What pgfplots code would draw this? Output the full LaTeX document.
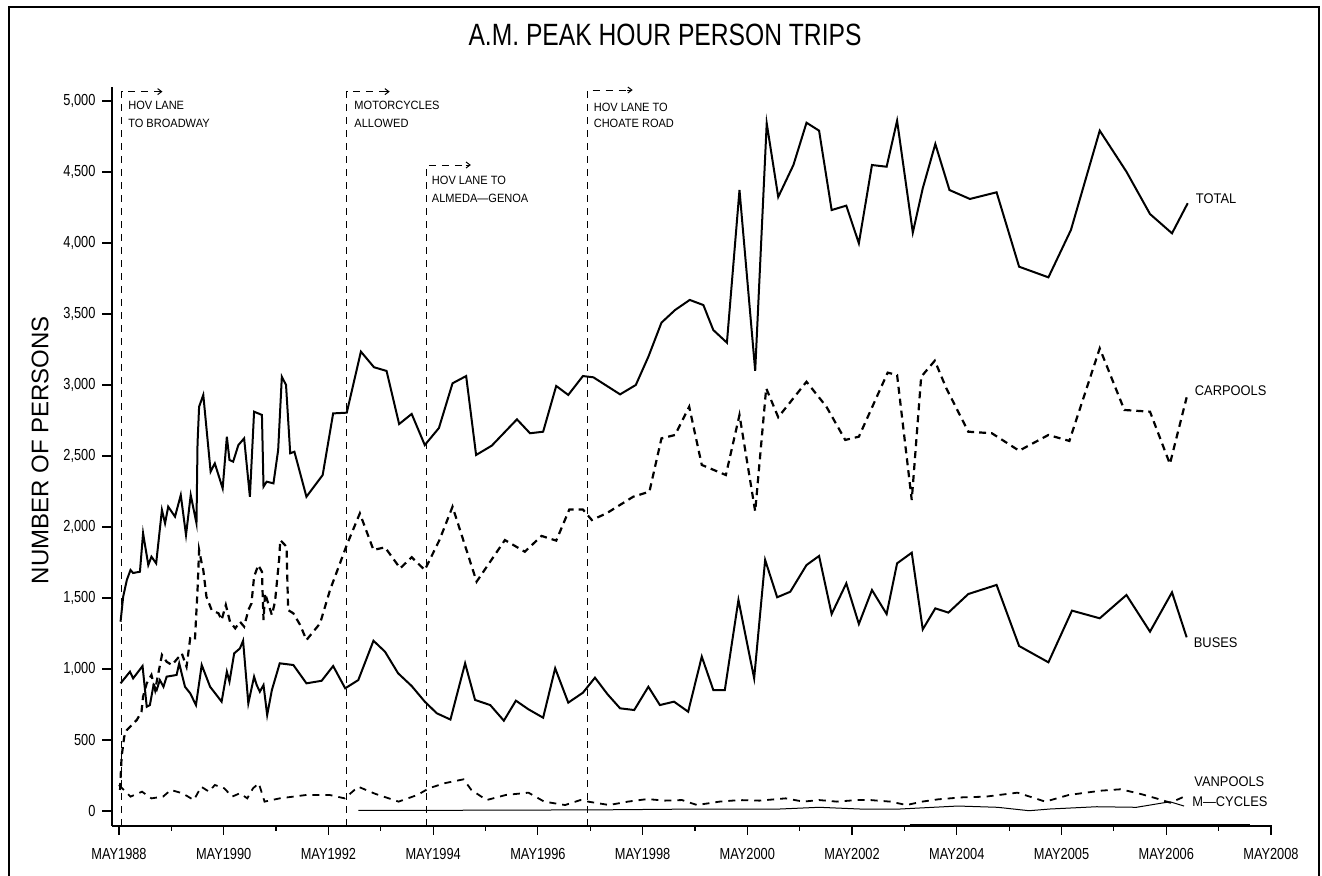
\documentclass[border=0pt]{standalone}
\usepackage{pgfplots}
\pgfplotsset{compat=1.18}
\usepackage{fontspec}
\usetikzlibrary{arrows.meta}
\setmainfont{Liberation Sans}
\newfontfamily\narrow{Liberation Sans}[FakeStretch=0.8]
\newfontfamily\semi{Liberation Sans}[FakeStretch=0.92]
\begin{document}
\begin{tikzpicture}
\path[use as bounding box] (0,0) rectangle (661pt,438pt);
\draw[line width=0.7pt] (4.5pt,0pt) -- (4.5pt,434.5pt) -- (659.5pt,434.5pt) -- (659.5pt,0pt);
\node[font=\narrow\fontsize{15.4}{18}\selectfont] at (332.5pt,420.5pt) {A.M. PEAK HOUR PERSON TRIPS};
\node[rotate=90, font=\fontsize{12}{14}\selectfont] at (20pt,213pt) {NUMBER OF PERSONS};
\begin{axis}[
  at={(55.75pt,25pt)}, anchor=south west,
  scale only axis, width=580.25pt, height=369.5pt,
  xmin=-0.143, xmax=22.02, ymin=-105.6, ymax=5098.6,
  axis x line*=bottom, axis y line*=left,
  axis line style={line width=1pt,-},
  xtick={0,2,...,22}, minor xtick={1,3,...,21},
  xticklabels={MAY1988,MAY1990,MAY1992,MAY1994,MAY1996,MAY1998,MAY2000,MAY2002,MAY2004,MAY2005,MAY2006,MAY2008},
  ytick={0,500,...,5000},
  yticklabels={0,500,{1,000},{1,500},{2,000},{2,500},{3,000},{3,500},{4,000},{4,500},{5,000}},
  tick align=outside, major tick length=4.5pt, minor tick length=2.5pt,
  tick style={line width=0.6pt,black},
  ticklabel style={font=\narrow\fontsize{8}{9}\selectfont},
  xticklabel style={yshift=-3pt},
  clip=false,
]
% event markers
\foreach \t/\v/\e in {0.05/5066/0.78, 4.35/5066/5.12, 5.88/4549/6.67, 8.95/5077/9.76}{
  \edef\tmp{\noexpand\draw[line width=0.5pt, dash pattern=on 3.5pt off 3pt] (axis cs:\t,-105.6) -- (axis cs:\t,\v) -- (axis cs:\e,\v);
  \noexpand\draw[line width=0.5pt,-{Straight Barb[length=2pt,width=3pt]}] (axis cs:\e-0.05,\v) -- (axis cs:\e+0.05,\v);}
  \tmp
}
\node[anchor=west,font=\semi\fontsize{6}{7}\selectfont,inner sep=0pt] at (axis cs:0.17,4972) {HOV LANE};
\node[anchor=west,font=\semi\fontsize{6}{7}\selectfont,inner sep=0pt] at (axis cs:0.17,4845) {TO BROADWAY};
\node[anchor=west,font=\semi\fontsize{6}{7}\selectfont,inner sep=0pt] at (axis cs:4.49,4972) {MOTORCYCLES};
\node[anchor=west,font=\semi\fontsize{6}{7}\selectfont,inner sep=0pt] at (axis cs:4.49,4845) {ALLOWED};
\node[anchor=west,font=\semi\fontsize{6}{7}\selectfont,inner sep=0pt] at (axis cs:5.97,4444) {HOV LANE TO};
\node[anchor=west,font=\semi\fontsize{6}{7}\selectfont,inner sep=0pt] at (axis cs:5.97,4317) {ALMEDA—GENOA};
\node[anchor=west,font=\semi\fontsize{6}{7}\selectfont,inner sep=0pt] at (axis cs:9.06,4958) {HOV LANE TO};
\node[anchor=west,font=\semi\fontsize{6}{7}\selectfont,inner sep=0pt] at (axis cs:9.06,4845) {CHOATE ROAD};
% TOTAL
\addplot[black, line width=1pt] coordinates {
(0.03,1333)(0.08,1509)(0.15,1627)(0.22,1697)(0.27,1676)(0.40,1685)(0.46,1956)(0.56,1732)(0.62,1791)(0.71,1744)
(0.82,2120)(0.88,2026)(0.94,2143)(1.07,2073)(1.18,2225)(1.28,1944)(1.37,2225)(1.48,2026)(1.50,2589)(1.53,2847)
(1.61,2930)(1.75,2390)(1.83,2448)(1.98,2272)(2.06,2636)(2.11,2472)(2.18,2460)(2.28,2577)(2.39,2624)(2.50,2213)
(2.58,2812)(2.73,2789)(2.76,2284)(2.82,2319)(2.95,2307)(3.04,2542)(3.11,3058)(3.19,3000)(3.27,2519)(3.35,2530)
(3.58,2213)(3.89,2366)(4.09,2800)(4.35,2805)(4.62,3235)(4.87,3125)(5.11,3099)(5.35,2725)(5.59,2796)(5.84,2577)
(6.11,2697)(6.37,3012)(6.63,3063)(6.82,2507)(7.12,2573)(7.60,2758)(7.85,2660)(8.10,2671)(8.35,2993)(8.58,2930)
(8.86,3063)(9.06,3054)(9.57,2934)(9.87,3000)(10.11,3199)(10.36,3439)(10.62,3528)(10.90,3599)(11.16,3563)(11.35,3387)
(11.61,3298)(11.85,4373)(12.15,3100)(12.37,4843)(12.59,4324)(12.88,4549)(13.13,4847)(13.37,4791)(13.61,4232)(13.89,4263)
(14.13,3998)(14.38,4549)(14.66,4537)(14.86,4861)(15.16,4073)(15.35,4385)(15.59,4697)(15.86,4373)(16.25,4310)(16.76,4357)
(17.19,3833)(17.75,3758)(18.18,4092)(18.73,4791)(19.24,4502)(19.69,4204)(20.11,4068)(20.41,4280)
};
% CARPOOLS
\addplot[black, line width=1.1pt, dash pattern=on 3.5pt off 2.5pt] coordinates {
(0.02,148)(0.05,383)(0.10,523)(0.15,570)(0.34,641)(0.43,699)(0.46,805)(0.53,899)(0.62,958)(0.69,852)
(0.82,1099)(0.91,1051)(1.01,1028)(1.20,1109)(1.29,1016)(1.36,1216)(1.45,1204)(1.50,1556)(1.53,1838)(1.58,1744)
(1.61,1697)(1.67,1509)(1.77,1415)(1.90,1392)(1.96,1345)(2.04,1451)(2.12,1333)(2.22,1286)(2.31,1333)(2.39,1298)
(2.47,1415)(2.53,1462)(2.58,1650)(2.66,1732)(2.73,1685)(2.76,1345)(2.79,1533)(2.85,1462)(2.92,1380)(2.98,1474)
(3.06,1779)(3.08,1908)(3.20,1861)(3.23,1415)(3.33,1392)(3.46,1310)(3.58,1204)(3.84,1321)(4.03,1556)(4.22,1744)
(4.35,1873)(4.60,2096)(4.86,1838)(5.08,1857)(5.37,1709)(5.59,1787)(5.84,1697)(6.12,1908)(6.37,2143)(6.83,1615)
(7.37,1908)(7.75,1826)(8.07,1937)(8.35,1904)(8.60,2123)(8.86,2123)(9.03,2049)(9.31,2096)(9.82,2213)(10.13,2249)
(10.36,2624)(10.62,2648)(10.89,2847)(11.13,2437)(11.59,2366)(11.85,2789)(12.15,2110)(12.36,2977)(12.59,2773)(13.13,3023)
(13.51,2847)(13.87,2613)(14.13,2636)(14.68,3087)(14.86,3070)(15.14,2190)(15.32,3058)(15.58,3171)(15.80,2977)(16.22,2671)
(16.67,2660)(17.19,2537)(17.75,2648)(18.15,2606)(18.73,3258)(19.20,2824)(19.69,2812)(20.07,2444)(20.39,2913)
};
% BUSES
\addplot[black, line width=1pt] coordinates {
(0.03,899)(0.21,981)(0.27,934)(0.45,1021)(0.53,734)(0.59,746)(0.66,887)(0.72,852)(0.78,922)(0.85,875)
(0.91,946)(1.10,958)(1.15,1040)(1.26,875)(1.36,829)(1.47,746)(1.58,1028)(1.74,875)(1.96,770)(2.06,981)
(2.11,911)(2.20,1110)(2.31,1145)(2.37,1199)(2.47,758)(2.58,946)(2.63,887)(2.69,840)(2.76,887)(2.83,676)
(2.92,852)(3.07,1040)(3.33,1028)(3.58,899)(3.87,917)(4.09,1021)(4.32,864)(4.57,922)(4.86,1199)(5.08,1122)
(5.33,970)(5.59,880)(5.84,770)(6.07,688)(6.33,644)(6.61,1040)(6.80,782)(7.09,746)(7.35,636)(7.58,777)
(7.82,716)(8.10,657)(8.33,1005)(8.58,763)(8.86,833)(9.09,939)(9.33,822)(9.57,723)(9.84,711)(10.11,875)
(10.33,746)(10.60,770)(10.87,699)(11.13,1087)(11.35,852)(11.57,852)(11.83,1486)(12.13,934)(12.34,1768)(12.57,1505)
(12.82,1544)(13.13,1732)(13.37,1796)(13.61,1387)(13.89,1603)(14.13,1317)(14.38,1556)(14.66,1387)(14.86,1744)(15.14,1819)
(15.35,1279)(15.59,1427)(15.84,1397)(16.22,1528)(16.76,1592)(17.19,1162)(17.75,1047)(18.20,1411)(18.73,1357)(19.24,1521)
(19.69,1263)(20.11,1540)(20.39,1223)
};
% VANPOOLS
\addplot[black, line width=0.9pt, dash pattern=on 3.5pt off 3pt] coordinates {
(0.00,183)(0.22,101)(0.44,136)(0.62,89)(0.84,101)(0.99,148)(1.21,125)(1.43,77)(1.57,171)(1.72,136)
(1.83,183)(2.01,160)(2.16,101)(2.31,125)(2.45,89)(2.56,160)(2.67,195)(2.78,66)(3.07,89)(3.58,113)
(4.02,113)(4.31,89)(4.57,171)(4.90,120)(5.34,66)(5.70,113)(5.92,160)(6.21,195)(6.58,223)(6.73,148)
(7.02,77)(7.39,113)(7.82,129)(8.12,66)(8.52,42)(8.81,77)(8.96,66)(9.36,42)(9.72,66)(10.09,84)
(10.42,73)(10.75,77)(11.04,42)(11.47,66)(11.85,77)(12.23,73)(12.73,89)(13.07,66)(13.37,77)(13.71,66)
(14.09,77)(14.35,77)(14.73,66)(15.04,42)(15.34,66)(15.64,82)(16.10,96)(16.55,101)(17.16,129)(17.69,66)
(18.14,113)(18.75,143)(19.13,153)(19.51,120)(19.81,89)(20.08,58)(20.34,101)
};
% M-CYCLES
\addplot[black, line width=0.5pt] coordinates {
(4.57,5)(6.32,5)(9.19,8)(11.10,14)(12.62,14)(13.37,26)(14.15,14)(14.92,14)(16.02,35)(16.78,26)
(17.38,2)(17.78,14)(18.67,30)(19.43,26)(20.07,65)(20.34,35)
};
\draw[line width=1.4pt] (axis cs:15.1,-102) -- (axis cs:21.6,-102);
\node[anchor=west,font=\semi\fontsize{7}{8}\selectfont,inner sep=0pt] at (axis cs:20.56,4315) {TOTAL};
\node[anchor=west,font=\semi\fontsize{7}{8}\selectfont,inner sep=0pt] at (axis cs:20.54,2960) {CARPOOLS};
\node[anchor=west,font=\semi\fontsize{7}{8}\selectfont,inner sep=0pt] at (axis cs:20.52,1185) {BUSES};
\node[anchor=west,font=\semi\fontsize{7}{8}\selectfont,inner sep=0pt] at (axis cs:20.53,206) {VANPOOLS};
\node[anchor=west,font=\semi\fontsize{7}{8}\selectfont,inner sep=0pt] at (axis cs:20.49,65) {M—CYCLES};
\end{axis}
\end{tikzpicture}
\end{document}
